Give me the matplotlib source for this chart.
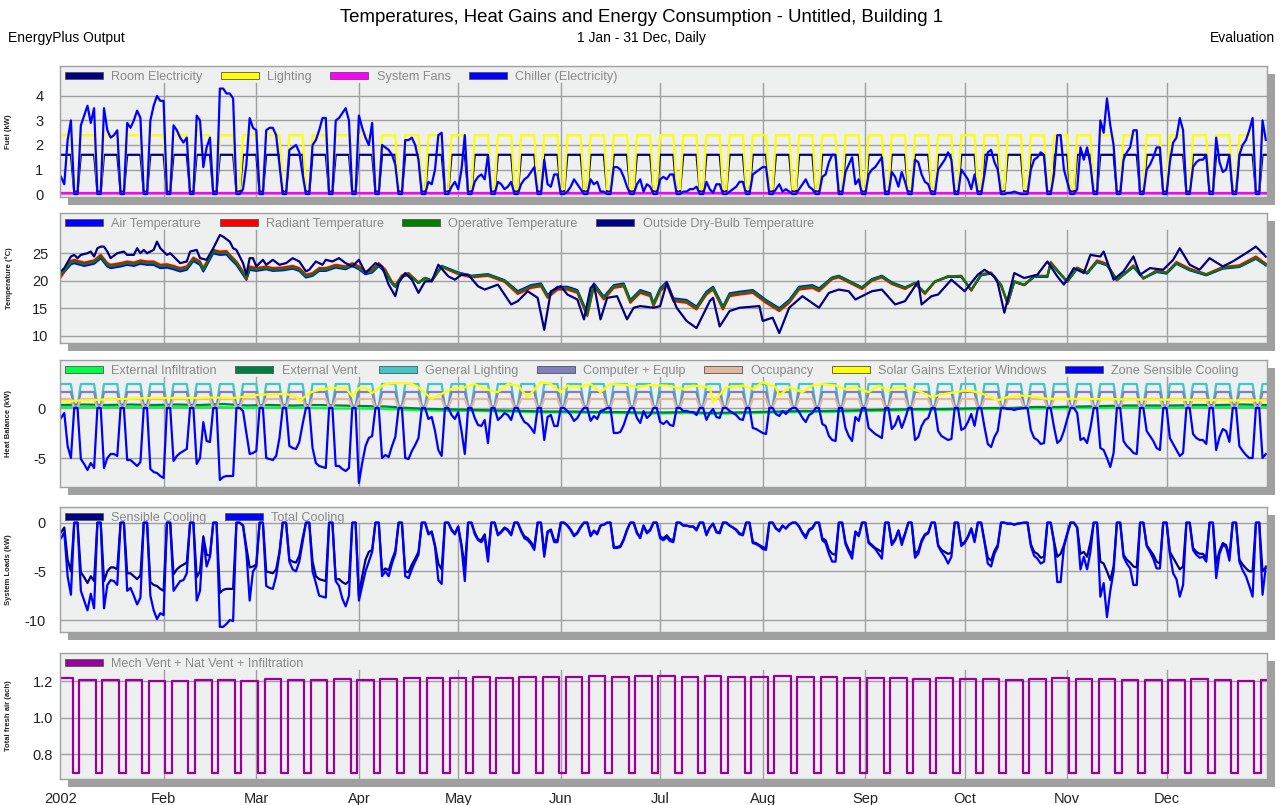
import numpy as np
import pandas as pd
import matplotlib
matplotlib.use('Agg')
import matplotlib.pyplot as plt
from matplotlib.patches import Rectangle, Patch

plt.rcParams['font.family'] = ['Liberation Sans', 'DejaVu Sans']

# calendar for the daily output
days = pd.date_range('2002-01-01', '2002-12-31', freq='D')
doy = np.arange(len(days))
wd_mask = np.asarray(days.dayofweek < 5)
week_idx = np.cumsum(np.asarray(days.dayofweek == 0))   # 0 for Jan 1-6, 1 from Jan 7 ...
month_starts = doy[np.asarray(days.day == 1)]
month_labels = ['2002', 'Feb', 'Mar', 'Apr', 'May', 'Jun', 'Jul', 'Aug', 'Sep', 'Oct', 'Nov', 'Dec']

# ---- weekday values per week (Mon..Fri; week 0 = Tue-Fri, last week = Mon,Tue) ----
chiller_wk = [
    [0.7, 0.4, 2.2, 3.0], [2.8, 3.2, 3.6, 2.9, 3.5], [3.5, 2.6, 2.3, 2.4, 2.6], [2.9, 2.7, 3.0, 3.4, 3.1],
    [3.0, 3.6, 4.0, 3.8, 3.8], [2.8, 2.6, 2.3, 2.1, 2.3], [3.2, 3.0, 1.1, 1.9, 2.3], [4.3, 4.3, 4.1, 4.1, 3.9],
    [0.2, 1.2, 3.1, 2.7, 2.6], [2.6, 2.7, 2.7, 2.4, 1.2], [1.8, 1.9, 2.0, 1.7, 0.8], [2.0, 2.2, 2.6, 3.1, 3.1],
    [3.0, 3.1, 3.3, 3.5, 3.0], [3.2, 2.7, 2.3, 2.0, 2.9], [2.0, 1.9, 1.8, 1.6, 1.2], [2.2, 2.2, 2.3, 2.0, 1.4],
    [0.5, 0.4, 1.0, 2.4, 2.5], [0.3, 0.5, 0.2, 1.0, 2.4], [0.5, 0.7, 0.8, 0.6, 1.6], [0.5, 0.4, 0.2, 0.3, 0.5],
    [0.4, 0.6, 0.7, 0.9, 1.1], [1.4, 0.4, 0.3, 0.8, 0.8], [0.1, 0.3, 0.6, 0.4, 0.2], [0.6, 0.4, 0.5, 0.1, 0.1],
    [1.1, 1.1, 1.0, 0.7, 0.3], [0.4, 0.6, 0.1, 0.4, 0.3], [0.6, 0.7, 0.6, 0.8, 0.8], [0.1, 0.1, 0.2, 0.2, 0.3],
    [0.5, 0.2, 0.05, 0.4, 0.4], [0.1, 0.2, 0.3, 0.5, 0.5], [0.8, 0.9, 1.0, 1.1, 1.1], [0.2, 0.4, 0.1, 0.2, 0.1],
    [0.2, 0.4, 0.6, 0.3, 0.2], [0.7, 0.8, 1.3, 1.6, 1.6], [0.9, 1.2, 1.5, 0.4, 0.6], [0.8, 1.0, 1.1, 1.3, 1.5],
    [0.9, 0.7, 0.3, 0.9, 0.5], [1.4, 1.3, 0.8, 0.5, 0.4], [1.0, 1.2, 1.4, 1.7, 1.4], [1.0, 0.8, 0.6, 0.2, 0.8],
    [0.8, 1.7, 1.8, 1.3, 1.0], [0.05, 0.05, 0.1, 0.05, 0.0], [1.0, 1.4, 1.5, 1.7, 1.6], [0.8, 2.4, 2.4, 1.0, 0.5],
    [0.2, 1.9, 1.4, 1.9, 1.2], [3.0, 2.5, 3.9, 2.8, 2.0], [1.4, 1.7, 1.9, 2.6, 2.6], [1.0, 1.2, 1.5, 1.9, 1.9],
    [1.3, 2.1, 2.3, 3.1, 2.6], [1.1, 1.3, 1.4, 1.4, 1.6], [2.3, 1.3, 0.9, 1.0, 1.6], [1.6, 2.0, 2.2, 2.6, 3.1],
    [3.0, 2.2],
]
sensible_wk = [
    [-1.0, -0.5, -3.8, -5.0], [-5.1, -5.6, -6.2, -5.5, -6.0], [-6.0, -5.0, -4.6, -4.6, -4.8], [-5.2, -5.2, -5.5, -5.8, -5.4],
    [-6.1, -6.4, -6.5, -6.8, -7.0], [-5.3, -4.8, -4.5, -4.3, -4.1], [-5.6, -5.0, -1.4, -3.3, -3.4], [-7.2, -6.9, -6.8, -6.8, -6.8],
    [-0.3, -2.5, -4.6, -4.5, -4.3], [-5.0, -5.1, -5.2, -4.8, -3.0], [-3.8, -4.0, -4.1, -3.4, -1.6], [-4.0, -5.5, -5.8, -5.9, -6.0],
    [-5.8, -5.8, -6.1, -6.3, -6.0], [-7.5, -5.5, -3.8, -3.0, -2.8], [-5.0, -4.7, -4.9, -3.8, -2.9], [-5.0, -5.1, -4.3, -3.7, -3.0],
    [-1.1, -0.9, -2.3, -4.2, -4.8], [-0.7, -1.1, -0.4, -2.3, -4.6], [-1.0, -1.7, -1.8, -1.2, -3.5], [-1.2, -0.9, -0.5, -0.7, -1.2],
    [-0.8, -1.4, -1.6, -2.0, -2.5], [-3.2, -0.9, -0.7, -1.8, -1.8], [-0.3, -0.7, -1.3, -1.0, -0.4], [-1.3, -0.8, -1.1, -0.3, -0.2],
    [-2.5, -2.5, -2.4, -1.7, -0.7], [-1.0, -1.5, -0.3, -1.0, -0.7], [-1.4, -1.6, -1.3, -1.7, -1.8], [-0.3, -0.3, -0.4, -0.4, -0.7],
    [-1.2, -0.5, -0.1, -0.9, -1.0], [-0.3, -0.5, -0.7, -1.1, -1.2], [-2.0, -2.1, -2.3, -2.5, -2.6], [-0.6, -0.8, -0.3, -0.6, -0.2],
    [-0.4, -1.0, -1.4, -0.7, -0.5], [-1.6, -1.8, -2.8, -3.2, -3.3], [-2.0, -2.8, -3.3, -0.9, -1.3], [-2.0, -2.3, -2.6, -2.8, -3.0],
    [-2.1, -1.7, -0.8, -2.0, -1.1], [-3.2, -2.9, -1.8, -1.2, -1.0], [-2.3, -2.8, -3.0, -3.2, -3.1], [-2.2, -2.0, -1.4, -0.6, -1.8],
    [-1.9, -3.6, -3.9, -2.9, -2.3], [-0.1, -0.1, -0.2, -0.1, -0.05], [-2.2, -3.0, -3.2, -3.6, -3.5], [-1.9, -3.5, -3.2, -2.3, -1.1],
    [-0.5, -3.2, -3.0, -3.5, -2.0], [-4.0, -4.2, -5.0, -5.9, -4.5], [-3.3, -3.8, -4.1, -4.5, -4.6], [-2.3, -2.8, -3.3, -4.0, -4.2],
    [-3.0, -3.6, -4.2, -4.8, -4.5], [-2.6, -3.0, -3.2, -3.2, -3.6], [-4.2, -2.9, -2.1, -2.3, -3.4], [-3.8, -4.3, -4.7, -5.0, -5.0],
    [-5.0, -4.6],
]
total_wk = [
    [-1.6, -1.0, -5.5, -7.4], [-7.0, -8.0, -9.0, -7.3, -8.8], [-8.8, -6.4, -5.9, -6.0, -6.4], [-7.0, -6.7, -7.5, -8.4, -7.7],
    [-7.5, -9.0, -9.9, -9.3, -9.5], [-7.0, -6.5, -6.0, -5.9, -5.2], [-8.0, -7.0, -1.6, -4.5, -3.5], [-10.7, -10.7, -10.4, -10.0, -10.1],
    [-0.3, -3.0, -8.0, -5.0, -4.5], [-6.5, -6.7, -6.8, -5.5, -3.2], [-4.0, -4.8, -5.0, -4.0, -2.0], [-5.0, -6.2, -7.5, -7.6, -7.7],
    [-6.0, -6.5, -7.8, -8.6, -7.5], [-8.0, -6.5, -5.0, -4.0, -3.0], [-5.5, -5.0, -5.5, -4.2, -3.2], [-5.5, -5.7, -4.8, -4.0, -3.3],
    [-1.2, -1.0, -2.5, -5.9, -6.3], [-0.8, -1.2, -0.4, -2.5, -6.0], [-1.2, -1.8, -2.0, -1.5, -4.0], [-1.3, -1.0, -0.6, -0.8, -1.3],
    [-0.9, -1.6, -1.8, -2.2, -2.8], [-3.5, -1.0, -0.8, -2.0, -2.0], [-0.3, -0.8, -1.4, -1.1, -0.5], [-1.4, -0.9, -1.2, -0.3, -0.2],
    [-2.6, -2.6, -2.5, -1.8, -0.8], [-1.1, -1.6, -0.3, -1.1, -0.8], [-1.6, -1.8, -1.5, -1.9, -2.0], [-0.3, -0.3, -0.4, -0.4, -0.8],
    [-1.3, -0.5, -0.1, -1.0, -1.1], [-0.3, -0.5, -0.8, -1.2, -1.3], [-2.1, -2.2, -2.4, -2.7, -2.8], [-0.6, -0.9, -0.3, -0.6, -0.2],
    [-0.4, -1.1, -1.6, -0.8, -0.6], [-1.8, -2.1, -3.2, -4.0, -4.0], [-2.2, -3.0, -3.7, -1.0, -1.4], [-2.1, -2.4, -2.7, -3.2, -3.7],
    [-2.3, -1.8, -0.8, -2.3, -1.2], [-3.6, -3.2, -2.0, -1.3, -1.1], [-2.4, -3.0, -3.5, -4.2, -3.5], [-2.4, -2.1, -1.5, -0.6, -2.0],
    [-2.0, -4.2, -4.5, -3.2, -2.5], [-0.1, -0.1, -0.2, -0.1, -0.05], [-2.4, -3.4, -3.7, -4.2, -4.0], [-2.0, -6.1, -6.1, -2.5, -1.2],
    [-0.5, -4.8, -3.5, -4.8, -3.0], [-7.6, -6.2, -9.7, -7.0, -5.0], [-3.5, -4.2, -4.7, -6.4, -6.4], [-2.4, -3.0, -3.7, -4.7, -4.7],
    [-3.2, -5.2, -5.8, -7.6, -6.4], [-2.8, -3.3, -3.6, -3.5, -4.0], [-5.7, -3.2, -2.3, -2.5, -3.9], [-4.0, -4.9, -5.5, -6.5, -7.6],
    [-7.4, -4.5],
]
# weekday level of fresh air per week (ach); weekends sit at vent_weekend
vent_wk = [1.215, 1.205, 1.205, 1.205, 1.20, 1.20, 1.205, 1.205, 1.20, 1.21, 1.205, 1.205, 1.21, 1.205,
           1.21, 1.215, 1.215, 1.215, 1.22, 1.215, 1.22, 1.22, 1.22, 1.225, 1.22, 1.225, 1.225, 1.22,
           1.225, 1.22, 1.22, 1.225, 1.22, 1.22, 1.215, 1.215, 1.215, 1.21, 1.215, 1.21, 1.21, 1.205,
           1.21, 1.215, 1.21, 1.21, 1.205, 1.205, 1.205, 1.21, 1.205, 1.20, 1.205]
vent_weekend = 0.70

# schedules (kW): weekday / weekend
light_on, light_off = 2.4, 0.2
equip_on, equip_off = 1.6, 0.1
occ_on, occ_off = 0.9, 0.0
fans_level = 0.03

# weekly (Tuesday) values for infiltration and ventilation gains (kW)
infil_wk = [0.1, 0.1, 0.1, 0.1, 0.1, 0.1, 0.1, 0.1, 0.0, 0.05, 0.05, 0.0, -0.05, -0.05,
            -0.1, -0.2, -0.25, -0.3, -0.3, -0.35, -0.4, -0.45, -0.45, -0.5, -0.5, -0.55,
            -0.55, -0.5, -0.6, -0.55, -0.5, -0.45, -0.4, -0.4, -0.35, -0.3, -0.25, -0.2, -0.2,
            -0.15, -0.1, -0.1, -0.05, -0.05, 0.0, 0.0, 0.05, 0.05, 0.05, 0.1, 0.1, 0.1, 0.1]
extvent_wk = [0.3, 0.35, 0.3, 0.35, 0.3, 0.35, 0.3, 0.4, 0.25, 0.3, 0.25, 0.3, 0.25, 0.2,
              0.15, 0.0, -0.1, -0.15, -0.2, -0.25, -0.3, -0.35, -0.35, -0.4, -0.4, -0.45,
              -0.45, -0.4, -0.5, -0.45, -0.4, -0.35, -0.3, -0.3, -0.25, -0.2, -0.15, -0.1, -0.1,
              -0.05, 0.0, 0.0, 0.1, 0.1, 0.15, 0.2, 0.25, 0.25, 0.25, 0.3, 0.3, 0.35, 0.3]

solar_days = [0, 12, 27, 42, 46, 52, 56, 60, 68, 71, 72, 75, 78, 82, 86, 88, 90, 92, 94, 96,
              98, 102, 106, 108, 112, 115, 118, 122, 125, 128, 132, 135, 138, 141, 145, 148, 151, 153, 156, 160,
              163, 166, 171, 174, 178, 183, 188, 191, 196, 197, 201, 206, 209, 212, 216, 217, 220, 224, 227, 230,
              234, 237, 240, 244, 247, 250, 253, 257, 260, 263, 267, 270, 273, 276, 280, 283, 286, 290, 293, 298,
              306, 322, 339, 355, 364]
solar_vals = [0.67, 0.83, 1.0, 1.0, 1.05, 1.0, 1.17, 1.33, 1.4, 1.17, 0.67, 1.5, 1.83, 2.0, 2.0, 1.17, 2.0, 2.0, 1.5, 2.0,
              2.4, 2.5, 2.4, 2.07, 0.92, 1.41, 1.91, 2.07, 2.4, 1.91, 1.58, 2.4, 2.24, 1.09, 2.57, 2.4, 1.58, 2.24, 2.07, 2.4,
              1.58, 2.4, 2.3, 2.07, 2.3, 2.24, 1.91, 2.24, 2.07, 0.59, 2.07, 2.24, 1.91, 2.57, 2.07, 1.25, 2.07, 1.58, 2.24, 2.4,
              2.24, 1.91, 2.07, 1.58, 2.24, 1.74, 2.07, 1.91, 1.58, 1.09, 1.41, 1.58, 1.74, 1.64, 1.25, 0.76, 1.09, 1.25, 1.18, 0.92,
              0.92, 0.86, 0.82, 0.76, 0.76]

# ---- temperatures (deg C) ----
op_days = [0, 3, 4, 7, 10, 12, 14, 15, 18, 20, 22, 24, 26, 28, 30, 32, 34, 36, 38, 40,
           42, 43, 46, 48, 50, 51, 53, 55, 56, 57, 59, 62, 64, 67, 70, 72, 74, 76, 78, 80,
           83, 86, 88, 90, 92, 94, 96, 98, 100, 101, 103, 105, 108, 110, 112, 115, 120, 124, 129, 134,
           138, 142, 145, 147, 150, 153, 156, 159, 161, 164, 167, 170, 172, 175, 178, 179, 181, 183, 185, 189,
           192, 195, 197, 200, 202, 205, 209, 213, 217, 220, 223, 227, 229, 233, 235, 242, 245, 248, 251, 255,
           258, 261, 264, 268, 272, 275, 278, 281, 284, 286, 288, 291, 294, 298, 299, 304, 307, 310, 313, 316,
           319, 324, 327, 331, 334, 337, 341, 346, 351, 356, 361, 364]
operative = [21.1, 23.3, 23.5, 23.0, 23.4, 24.4, 22.9, 22.6, 22.9, 23.2, 23.0, 23.4, 23.2, 23.2, 22.6, 22.7, 22.4, 22.0, 22.3, 23.9,
             23.2, 22.0, 25.3, 25.0, 25.1, 24.4, 23.2, 21.4, 20.5, 22.3, 22.0, 22.3, 22.0, 22.1, 22.4, 22.0, 20.8, 21.1, 22.0, 22.0,
             22.6, 22.3, 22.9, 22.3, 21.4, 21.7, 22.9, 21.7, 19.6, 19.0, 20.8, 21.2, 19.6, 20.5, 20.0, 22.6, 21.4, 20.8, 21.1, 20.0,
             17.9, 19.0, 19.3, 17.2, 18.7, 18.7, 18.1, 13.9, 19.3, 16.9, 19.0, 19.3, 16.3, 18.1, 17.5, 15.7, 18.4, 19.6, 16.6, 16.3,
             15.1, 17.8, 18.7, 15.1, 17.5, 17.8, 18.1, 16.3, 14.8, 16.3, 18.7, 19.0, 18.4, 20.5, 20.8, 18.7, 20.2, 20.8, 19.6, 18.7,
             19.6, 17.8, 19.9, 20.8, 20.8, 18.4, 21.1, 21.4, 19.3, 16.0, 19.9, 19.3, 20.8, 20.8, 23.2, 19.9, 22.3, 21.4, 23.5, 22.9,
             20.2, 22.6, 20.5, 21.7, 21.4, 23.2, 22.0, 21.1, 22.3, 22.6, 24.1, 22.9]
air = [20.9, 23.0, 23.2, 22.7, 23.1, 24.1, 22.6, 22.3, 22.6, 22.9, 22.7, 23.1, 22.9, 22.9, 22.3, 22.4, 22.1, 21.7, 22.0, 23.6,
       22.9, 21.7, 25.0, 24.7, 24.8, 24.1, 22.9, 21.1, 20.2, 22.0, 21.8, 22.1, 21.8, 21.9, 22.2, 21.8, 20.6, 20.9, 21.8, 21.8,
       22.4, 22.1, 22.7, 22.1, 21.2, 21.5, 22.7, 21.5, 19.5, 18.9, 20.7, 21.1, 19.6, 20.5, 20.1, 22.7, 21.5, 20.9, 21.2, 20.1,
       18.1, 19.2, 19.5, 17.4, 18.9, 18.9, 18.3, 14.1, 19.5, 17.1, 19.2, 19.5, 16.5, 18.3, 17.7, 15.9, 18.6, 19.8, 16.8, 16.5,
       15.3, 18.0, 18.9, 15.3, 17.7, 18.0, 18.3, 16.5, 15.0, 16.5, 18.9, 19.2, 18.6, 20.6, 20.9, 18.8, 20.3, 20.9, 19.7, 18.8,
       19.6, 17.8, 19.8, 20.7, 20.7, 18.3, 21.0, 21.3, 19.2, 15.9, 19.8, 19.2, 20.7, 20.7, 23.1, 19.8, 22.2, 21.3, 23.4, 22.8,
       20.1, 22.5, 20.4, 21.6, 21.3, 23.1, 21.9, 21.0, 22.2, 22.5, 24.0, 22.8]
radiant = [20.7, 23.6, 23.8, 23.3, 23.7, 24.7, 23.2, 22.9, 23.2, 23.5, 23.3, 23.7, 23.5, 23.5, 22.9, 23.0, 22.7, 22.3, 22.6, 24.2,
           23.5, 22.3, 25.6, 25.3, 25.4, 24.7, 23.5, 21.7, 20.2, 22.6, 22.3, 22.6, 22.3, 22.4, 22.7, 22.3, 21.1, 21.4, 22.3, 22.3,
           22.9, 22.6, 23.2, 22.6, 21.7, 22.0, 23.2, 22.0, 19.8, 19.2, 21.0, 21.4, 19.7, 20.5, 19.9, 22.5, 21.2, 20.6, 20.9, 19.8,
           17.6, 18.7, 19.0, 16.9, 18.4, 18.4, 17.8, 13.6, 19.0, 16.6, 18.7, 19.0, 16.0, 17.8, 17.2, 15.4, 18.1, 19.3, 16.3, 16.0,
           14.8, 17.5, 18.4, 14.8, 17.2, 17.5, 17.8, 16.0, 14.5, 16.0, 18.4, 18.7, 18.1, 20.3, 20.6, 18.5, 20.0, 20.6, 19.4, 18.5,
           19.5, 17.6, 19.8, 20.8, 20.9, 18.2, 21.2, 21.5, 19.1, 15.8, 19.9, 19.2, 20.9, 20.9, 23.4, 19.8, 22.4, 21.5, 23.7, 23.1,
           20.1, 22.8, 20.4, 21.9, 21.5, 23.4, 22.2, 21.2, 22.5, 22.8, 24.4, 23.1]
out_days = [0, 1, 3, 4, 5, 6, 8, 9, 10, 11, 12, 13, 14, 15, 17, 19, 20, 22, 23, 24,
            25, 26, 28, 29, 30, 32, 33, 34, 36, 38, 39, 41, 42, 44, 46, 48, 49, 51, 52, 53,
            55, 56, 57, 58, 59, 61, 62, 64, 66, 68, 70, 72, 74, 75, 77, 79, 80, 82, 84, 86,
            88, 90, 92, 93, 95, 97, 99, 101, 102, 104, 106, 108, 110, 112, 114, 117, 119, 121, 123, 126,
            128, 132, 136, 138, 141, 144, 146, 148, 151, 153, 156, 158, 160, 161, 163, 165, 168, 171, 173, 175,
            179, 181, 183, 186, 189, 192, 196, 197, 199, 202, 205, 211, 212, 215, 217, 220, 224, 229, 232, 235,
            238, 240, 245, 248, 252, 255, 259, 260, 263, 265, 269, 273, 277, 279, 282, 283, 285, 288, 291, 295,
            298, 301, 303, 306, 309, 311, 314, 315, 318, 321, 324, 326, 329, 333, 336, 338, 341, 344, 347, 351,
            354, 358, 361, 364]
outside = [21.7, 22.3, 24.4, 24.7, 24.1, 24.7, 25.0, 25.3, 24.4, 25.9, 26.2, 26.2, 25.3, 24.1, 25.0, 25.3, 24.7, 24.7, 25.9, 25.0,
           25.6, 25.0, 25.6, 27.1, 25.9, 24.7, 25.0, 24.4, 23.2, 23.5, 25.3, 25.6, 24.1, 23.8, 25.9, 28.3, 28.0, 27.1, 25.9, 25.6,
           23.2, 21.1, 24.1, 24.1, 22.6, 23.8, 22.9, 23.8, 22.9, 23.2, 24.1, 23.5, 21.7, 22.0, 23.5, 22.9, 23.8, 23.5, 24.1, 23.2,
           22.6, 23.8, 21.4, 22.0, 23.2, 22.6, 19.3, 17.2, 19.6, 21.4, 20.2, 17.8, 19.9, 19.9, 22.9, 20.8, 20.2, 21.1, 21.1, 19.0,
           18.4, 19.3, 15.7, 16.3, 18.1, 16.9, 11.1, 18.1, 19.0, 17.5, 16.6, 13.0, 18.7, 19.3, 13.0, 16.9, 17.2, 13.0, 15.1, 15.4,
           15.1, 15.4, 19.6, 15.1, 12.7, 11.4, 16.3, 16.9, 11.7, 14.5, 15.1, 15.4, 12.7, 13.3, 10.5, 15.1, 17.2, 15.1, 17.8, 18.4,
           18.1, 16.6, 18.1, 18.4, 15.7, 16.3, 19.9, 15.7, 17.2, 17.5, 20.2, 18.1, 21.1, 22.0, 20.8, 19.6, 14.2, 21.4, 20.5, 21.1,
           23.5, 20.8, 19.3, 22.3, 21.4, 24.7, 24.4, 25.3, 20.2, 21.7, 24.4, 21.1, 22.3, 22.0, 23.8, 25.9, 22.9, 22.0, 24.1, 22.6,
           23.5, 25.0, 26.2, 24.4]


def on_weekdays(week_lists, off):
    vals = np.full(len(days), off, dtype=float)
    vals[wd_mask] = np.concatenate(week_lists)
    return vals


chiller = on_weekdays(chiller_wk, 0.0)
sensible = on_weekdays(sensible_wk, 0.0)
total = on_weekdays(total_wk, 0.0)
vent = np.where(wd_mask, np.array(vent_wk)[week_idx], vent_weekend)
lighting = np.where(wd_mask, light_on, light_off)
equip = np.where(wd_mask, equip_on, equip_off)
occupancy = np.where(wd_mask, occ_on, occ_off)
fans = np.full(len(days), fans_level)
tuesdays = doy[np.asarray(days.dayofweek == 1)]

# ---- layout (pixel boxes of the 5 panels) ----
W, H = 1287, 805
X0, X1 = 60, 1267
panels = [(66, 197), (213, 343), (360, 487), (507, 632), (653, 779)]
GRID = '#a0a0a0'
BG = '#eeefef'

fig = plt.figure(figsize=(W / 100, H / 100), dpi=100)
fig.text(641 / W, 1 - 17 / H, 'Temperatures, Heat Gains and Energy Consumption - Untitled, Building 1',
         ha='center', va='center', fontsize=13.4)
fig.text(8 / W, 1 - 38 / H, 'EnergyPlus Output', ha='left', va='center', fontsize=10)
fig.text(641 / W, 1 - 38 / H, '1 Jan - 31 Dec, Daily', ha='center', va='center', fontsize=10)
fig.text(1275 / W, 1 - 38 / H, 'Evaluation', ha='right', va='center', fontsize=10)

axes = []
for top, bot in panels:
    fig.add_artist(Rectangle(((X0 + 8) / W, 1 - (bot + 8) / H), (X1 - X0) / W, (bot - top) / H,
                             transform=fig.transFigure, facecolor='#a0a0a0', edgecolor='none', zorder=0))
    ax = fig.add_axes([X0 / W, 1 - bot / H, (X1 - X0) / W, (bot - top) / H], zorder=1)
    ax.set_facecolor(BG)
    for s in ax.spines.values():
        s.set_color(GRID)
        s.set_linewidth(1)
    ax.set_xlim(-0.3, 364.35)
    gtop = 1 - 17 / (bot - top)
    for m in month_starts[1:]:
        ax.axvline(m, ymin=0, ymax=gtop, color=GRID, lw=1, zorder=0.5)
    ax.set_xticks(month_starts)
    ax.tick_params(length=0, labelsize=10.5, labelcolor='#222222')
    ax.set_xticklabels([])
    axes.append(ax)

ylabels = ['Fuel (kW)', 'Temperature (\u00b0C)', 'Heat Balance (kW)', 'System Loads (kW)', 'Total fresh air (ach)']
for (top, bot), lab in zip(panels, ylabels):
    fig.text(9 / W, 1 - (top + bot) / 2 / H, lab, rotation=90, ha='center', va='center',
             fontsize=5.5, fontweight='bold', color='#222222')


def finish(ax, ylim, yticks, fmt, pad, entries):
    ax.set_ylim(*ylim)
    ax.set_yticks(yticks)
    ax.set_yticklabels([fmt % v for v in yticks])
    ax.tick_params(axis='y', pad=pad)
    for v in yticks:
        ax.axhline(v, color=GRID, lw=1, zorder=0.5)
    handles = [Patch(facecolor=c, edgecolor='#555555', lw=0.6) for _, c in entries]
    ax.legend(handles, [l for l, _ in entries], loc='upper left', ncol=len(entries), frameon=False,
              fontsize=9.1, labelcolor='#8a8a8a', handlelength=3.0, handleheight=0.45,
              handletextpad=0.65, columnspacing=1.47, borderaxespad=0.1, borderpad=0.3)


LW = 1.6
# panel 1: fuel
ax = axes[0]
ax.plot(doy, equip, color='#000080', lw=LW)
ax.plot(doy, lighting, color='#ffff00', lw=LW)
ax.plot(doy, fans, color='#ff00ff', lw=LW)
ax.plot(doy, chiller, color='#0000ff', lw=LW)
finish(ax, (-0.12, 5.22), [0, 1, 2, 3, 4], '%d', 12,
       [('Room Electricity', '#000080'), ('Lighting', '#ffff00'), ('System Fans', '#ff00ff'),
        ('Chiller (Electricity)', '#0000ff')])

# panel 2: temperatures
ax = axes[1]
ax.plot(op_days, air, color='#0000ff', lw=LW)
ax.plot(op_days, radiant, color='#ff0000', lw=LW)
ax.plot(op_days, operative, color='#008000', lw=LW)
ax.plot(out_days, outside, color='#000080', lw=LW)
finish(ax, (8.7, 32.3), [10, 15, 20, 25], '%d', 8.5,
       [('Air Temperature', '#0000ff'), ('Radiant Temperature', '#ff0000'),
        ('Operative Temperature', '#008000'), ('Outside Dry-Bulb Temperature', '#000080')])

# panel 3: heat balance
ax = axes[2]
ax.plot(tuesdays, infil_wk, color='#00ff40', lw=LW)
ax.plot(tuesdays, extvent_wk, color='#008040', lw=LW)
ax.plot(doy, lighting, color='#40c8c8', lw=LW)
ax.plot(doy, equip, color='#8080c0', lw=LW)
ax.plot(doy, occupancy, color='#e0b8a0', lw=LW)
ax.plot(solar_days, solar_vals, color='#ffff00', lw=LW)
ax.plot(doy, sensible, color='#0000ff', lw=LW)
finish(ax, (-7.9, 4.8), [-5, 0], '%d', 10,
       [('External Infiltration', '#00ff40'), ('External Vent.', '#008040'), ('General Lighting', '#40c8c8'),
        ('Computer + Equip', '#8080c0'), ('Occupancy', '#e0b8a0'), ('Solar Gains Exterior Windows', '#ffff00'),
        ('Zone Sensible Cooling', '#0000ff')])

# panel 4: system loads
ax = axes[3]
ax.plot(doy, sensible, color='#000080', lw=LW)
ax.plot(doy, total, color='#0000ff', lw=LW)
finish(ax, (-11.23, 1.61), [-10, -5, 0], '%d', 10,
       [('Sensible Cooling', '#000080'), ('Total Cooling', '#0000ff')])

# panel 5: fresh air
ax = axes[4]
ax.plot(doy, vent, color='#990099', lw=LW, drawstyle='steps-mid')
finish(ax, (0.665, 1.353), [0.8, 1.0, 1.2], '%.1f', 5,
       [('Mech Vent + Nat Vent + Infiltration', '#990099')])
ax.set_xticklabels(month_labels)
ax.tick_params(axis='x', pad=9)

fig.savefig('out.png', dpi=100)
